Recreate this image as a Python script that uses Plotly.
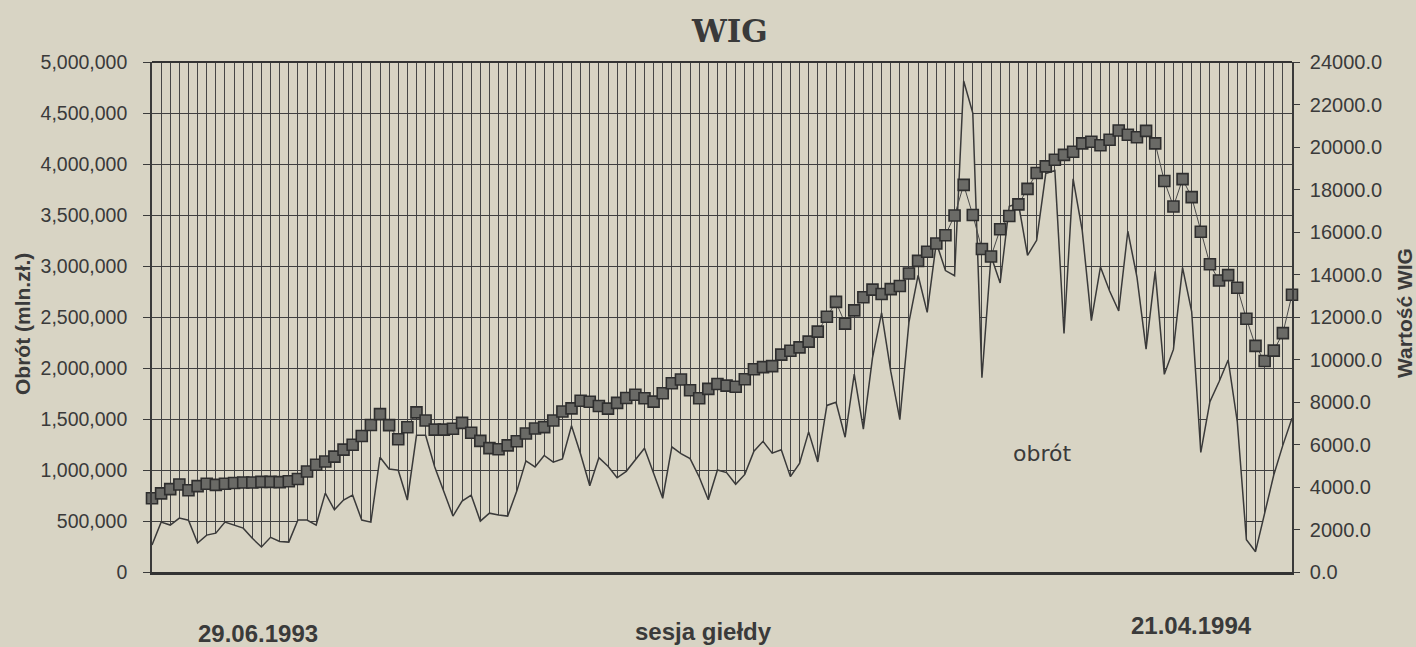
import plotly.graph_objects as go

# ---- data ----
sesja = list(range(1, 127))

wig = [3470, 3700, 3900, 4120, 3850, 4040, 4150, 4100, 4150, 4190,
       4210, 4210, 4240, 4240, 4230, 4270, 4380, 4730, 5050, 5200,
       5430, 5760, 5990, 6400, 6920, 7430, 6910, 6250, 6810, 7510,
       7130, 6700, 6700, 6740, 7020, 6550, 6170, 5830, 5780, 5960,
       6150, 6520, 6750, 6820, 7130, 7550, 7700, 8060, 8010, 7810,
       7690, 7960, 8190, 8340, 8180, 8020, 8410, 8880, 9060, 8550,
       8180, 8620, 8850, 8770, 8720, 9070, 9540, 9640, 9690, 10230,
       10410, 10570, 10840, 11310, 12010, 12710, 11690, 12310, 12930, 13290,
       13080, 13310, 13460, 14050, 14640, 15070, 15460, 15850, 16780, 18220,
       16800, 15200, 14850, 16130, 16750, 17300, 18030, 18780, 19090, 19400,
       19630, 19780, 20170, 20250, 20080, 20340, 20780, 20580, 20460, 20760,
       20170, 18400, 17200, 18490, 17640, 16010, 14480, 13720, 13970, 13380,
       11920, 10640, 9930, 10420, 11240, 13050]

obrot = [264000, 489000, 460000, 528000, 508000, 284000, 362000, 381000, 489000, 460000,
         430000, 330000, 245000, 340000, 300000, 293000, 510000, 510000, 460000, 773000,
         610000, 705000, 753000, 509000, 489000, 1125000, 1010000, 998000, 705000, 1340000,
         1340000, 1030000, 790000, 548000, 695000, 753000, 499000, 577000, 558000, 548000,
         793000, 1090000, 1030000, 1143000, 1077000, 1109000, 1434000, 1155000, 845000, 1121000,
         1037000, 924000, 987000, 1101000, 1214000, 969000, 723000, 1227000, 1161000, 1112000,
         931000, 708000, 1000000, 975000, 860000, 957000, 1184000, 1281000, 1165000, 1198000,
         935000, 1065000, 1374000, 1079000, 1633000, 1664000, 1321000, 1939000, 1400000, 2100000,
         2540000, 1969000, 1494000, 2450000, 2909000, 2546000, 3230000, 2955000, 2905000, 4813000,
         4499000, 1905000, 3098000, 2834000, 3586000, 3615000, 3105000, 3252000, 3906000, 3935000,
         2339000, 3855000, 3346000, 2464000, 2991000, 2755000, 2559000, 3341000, 2891000, 2185000,
         2947000, 1938000, 2182000, 2984000, 2553000, 1172000, 1670000, 1865000, 2079000, 1473000,
         317000, 199000, 560000, 951000, 1244000, 1507000]

# ---- styling ----
W, H = 1416, 647
L, R, T, B = 152, 1292, 62, 572
bg = '#d8d4c4'
ink = '#3a3a3a'


def paper(x, y):
    return (x - L) / (R - L), (B - y) / (B - T)


fig = go.Figure()

fig.add_trace(go.Scatter(
    x=sesja, y=obrot, mode='lines', name='obrót',
    line=dict(color=ink, width=1.5),
    fill='tozeroy', fillcolor=bg, yaxis='y'))

fig.add_trace(go.Scatter(
    x=sesja, y=wig, mode='lines+markers', name='WIG', yaxis='y2',
    line=dict(color='#4a4a4a', width=1),
    marker=dict(symbol='square', size=11, color='#6a6a66',
                line=dict(color='#2e2e2e', width=1.6)),
    cliponaxis=False))

fig.update_layout(
    width=W, height=H, autosize=False,
    paper_bgcolor=bg, plot_bgcolor=bg,
    margin=dict(l=L, r=W - R, t=T, b=H - B, pad=0),
    showlegend=False,
    font=dict(family='Liberation Sans, Arial, sans-serif', color=ink),
    xaxis=dict(range=[1, 126], tick0=1, dtick=1, showgrid=True,
               gridcolor='#464646', gridwidth=1, showticklabels=False,
               ticks='', zeroline=False, showline=True,
               linecolor='#333333', linewidth=3),
    yaxis=dict(range=[0, 5000000], dtick=500000, tickformat=',d',
               showgrid=True, gridcolor='#404040', gridwidth=1.4,
               zeroline=False, showline=True, linecolor=ink, linewidth=1.6,
               ticks='outside', ticklen=7, tickcolor=ink, tickwidth=1.3,
               ticklabelstandoff=12,
               tickfont=dict(size=19.5, color=ink)),
    yaxis2=dict(range=[0, 24000], dtick=2000, tickformat='.1f',
                overlaying='y', side='right', showgrid=False,
                zeroline=False, showline=True, linecolor=ink, linewidth=1.6,
                ticks='outside', ticklen=6, tickcolor=ink, tickwidth=1.3,
                ticklabelstandoff=6,
                tickfont=dict(size=20, color=ink)),
)

# top frame line
fig.add_shape(type='line', xref='paper', yref='paper', x0=0, x1=1, y0=1, y1=1,
              line=dict(color='#333333', width=2))

ann = []


def add_text(text, x, y, size, bold=False, angle=0, family=None):
    px_, py_ = paper(x, y)
    ann.append(dict(text=f'<b>{text}</b>' if bold else text,
                    x=px_, y=py_, xref='paper', yref='paper',
                    xanchor='center', yanchor='middle', showarrow=False,
                    textangle=angle,
                    font=dict(size=size, color=ink,
                              family=family or 'Liberation Sans, Arial, sans-serif')))


add_text('WIG', 729, 31, 31, bold=True, family='DejaVu Serif, serif')
add_text('Obrót (mln.zł.)', 22, 324, 21, bold=True, angle=-90)
add_text('Wartość WIG', 1404, 313, 21, bold=True, angle=-90)
add_text('29.06.1993', 258, 633, 24, bold=True)
add_text('sesja giełdy', 703, 631, 24, bold=True)
add_text('21.04.1994', 1191, 625, 24, bold=True)
add_text('obrót', 1042, 454, 22, family='DejaVu Sans, sans-serif')

fig.update_layout(annotations=ann)

fig.write_html(
    'out.html',
    config={'displayModeBar': False},
    post_script="document.body.style.margin='0';document.body.style.overflow='hidden';"
                "document.body.style.background='" + bg + "';")
